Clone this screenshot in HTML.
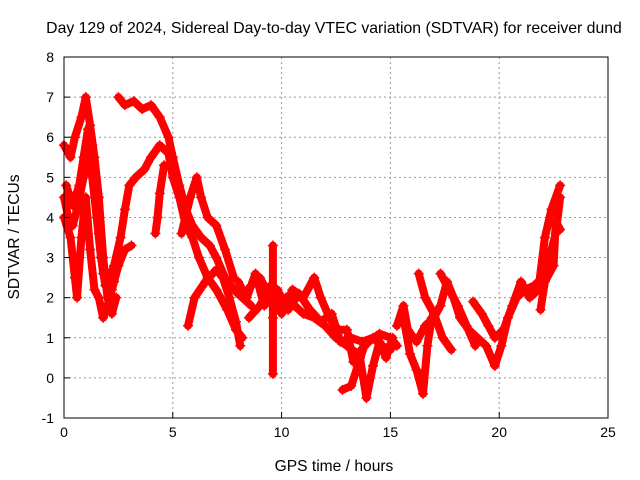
<!DOCTYPE html>
<html><head><meta charset="utf-8"><style>
body{margin:0;background:#fff}
svg{display:block;font-family:"Liberation Sans",sans-serif}
</style></head><body>
<svg id="chart" width="640" height="480">
<text x="334" y="33" text-anchor="middle" font-size="15.8">Day 129 of 2024, Sidereal Day-to-day VTEC variation (SDTVAR) for receiver dund</text>
<text x="334" y="471" text-anchor="middle" font-size="15.6">GPS time / hours</text>
<text transform="translate(19,237) rotate(-90)" text-anchor="middle" font-size="15.6">SDTVAR / TECUs</text>
<g id="grid"></g><g id="marks"></g><g id="axes"></g>
</svg>
<script>
const xTicks=[0,5,10,15,20,25];
const yTicks=[-1,0,1,2,3,4,5,6,7,8];
const trackA=[[0,5.8],[0.3,5.5],[0.5,6.0],[0.8,6.5],[1.0,7.0],[1.2,6.3],[1.4,5.5],[1.6,4.5],[1.8,3.0],[2.0,2.0],[2.2,1.6],[2.4,2.0]];
const trackB=[[0,4.5],[0.2,4.0],[0.4,3.8],[0.6,4.2],[0.9,5.0],[1.1,5.8],[1.3,5.0],[1.5,4.0],[1.7,3.0],[1.9,2.3],[2.1,2.5],[2.3,2.8],[2.6,3.5],[2.8,4.2],[3.0,4.8],[3.3,5.0],[3.7,5.2],[4.0,5.5],[4.4,5.8],[4.8,5.6],[5.0,5.0],[5.3,4.5],[5.6,3.8],[5.9,3.5],[6.2,3.0],[6.6,2.5],[7.0,2.2],[7.5,1.7],[7.9,1.2],[8.2,1.0]];
const trackC=[[2.5,7.0],[2.8,6.8],[3.2,6.9],[3.6,6.7],[4.0,6.8],[4.4,6.5],[4.8,6.0],[5.0,5.5],[5.3,4.8],[5.6,4.2],[5.9,3.8],[6.3,3.5],[6.7,3.3],[7.0,3.0],[7.4,2.5],[7.8,2.2],[8.2,2.0],[8.6,1.8]];
const trackD=[[4.6,5.3],[4.4,4.6],[4.3,4.0],[4.2,3.6]];
const trackE=[[5.7,1.3],[6.0,2.0],[6.5,2.4],[7.0,2.7],[7.3,2.5],[7.6,2.0],[7.9,1.4],[8.1,0.8]];
const trackF=[[5.4,3.6],[5.8,4.5],[6.1,5.0],[6.3,4.5],[6.6,4.0],[7.0,3.8],[7.4,3.2],[7.8,2.5]];
const trackG=[[0,4.0],[0.3,3.5],[0.5,2.5],[0.6,2.0],[0.8,3.5],[1.0,4.5],[1.2,3.2],[1.4,2.2],[1.6,2.0],[1.8,1.5],[2.0,1.8],[2.2,2.2],[2.5,2.8],[2.8,3.2],[3.1,3.3]];
const trackG2=[[0.1,4.8],[0.4,4.3],[0.7,4.8],[0.9,5.5],[1.1,6.2],[1.3,5.8],[1.5,4.8],[1.6,3.6],[1.8,2.6],[2.0,2.2],[2.3,2.4]];
const trackH=[[8.2,2.0],[8.6,2.3],[9.0,2.5],[9.4,2.1],[9.8,1.8],[10.2,2.0],[10.6,1.8],[11.0,1.6],[11.5,1.5],[12.0,1.3],[12.5,1.0],[13.0,0.8],[13.5,0.6],[14.0,0.9],[14.5,1.1],[15.0,1.0],[15.3,0.8]];
const trackH2=[[8.0,2.4],[8.4,2.0],[8.8,2.6],[9.2,1.8],[9.8,2.2],[10.3,1.7],[10.8,2.1],[11.3,1.7],[11.8,1.4],[12.3,1.6],[12.7,0.9],[13.2,1.0],[13.7,0.9],[14.2,1.0],[14.6,0.8],[15.0,0.7]];
const trackI=[[8.5,1.5],[9.0,1.8],[9.5,2.3],[10.0,1.6],[10.5,2.2],[11.0,2.0],[11.5,2.5],[11.8,2.0],[12.2,1.5],[12.6,1.2],[13.0,1.2],[13.3,0.4],[13.6,0.5],[13.9,-0.5],[14.2,0.3],[14.5,0.9],[14.8,0.5],[15.1,1.0]];
const trackJ=[[9.6,0.1],[9.6,1.5],[9.6,3.3]];
const trackK=[[12.8,-0.3],[13.2,-0.2],[13.5,0.3],[13.8,0.8]];
const trackL=[[15.3,1.3],[15.6,1.8],[15.8,1.2],[16.2,0.9],[16.6,1.3],[17.0,1.5],[17.3,1.8],[17.6,2.4],[17.9,2.0],[18.2,1.5],[18.6,1.2],[19.0,1.0],[19.4,0.8],[19.8,0.3],[20.1,0.8],[20.4,1.5],[20.8,2.0],[21.2,2.2],[21.6,2.3],[22.0,2.5],[22.3,3.0],[22.6,3.6],[22.8,4.5]];
const trackM=[[16.3,2.6],[16.6,2.0],[17.0,1.6],[17.4,1.0],[17.8,0.7]];
const trackN=[[17.3,2.6],[17.7,2.2],[18.1,1.8],[18.5,1.3],[18.9,0.8]];
const trackO=[[18.8,1.9],[19.2,1.6],[19.5,1.3],[19.8,1.0],[20.2,1.2],[20.6,1.8],[21.0,2.4],[21.4,2.0],[21.8,2.2],[22.1,3.5],[22.4,4.2],[22.8,4.8]];
const trackP=[[15.6,1.5],[15.9,0.6],[16.2,0.2],[16.5,-0.4],[16.7,0.8],[16.9,1.5]];
const trackQ=[[21.9,1.7],[22.1,2.4],[22.5,2.8],[22.6,3.9],[22.8,3.7]];
const tracks=[trackA,trackB,trackC,trackD,trackE,trackF,trackG,trackG2,trackH,trackH2,trackI,trackJ,trackK,trackL,trackM,trackN,trackO,trackP,trackQ];
const L=64,R=608,T=57,B=418;
const X=v=>L+(v-0)/(25-0)*(R-L);
const Y=v=>B-(v+1)/(8+1)*(B-T);
const NS="http://www.w3.org/2000/svg";
const grid=document.getElementById('grid'),axes=document.getElementById('axes'),marks=document.getElementById('marks');
function mk(tag,attrs,parent){const e=document.createElementNS(NS,tag);for(const k in attrs)e.setAttribute(k,attrs[k]);parent.appendChild(e);return e;}
xTicks.forEach(t=>{
 if(t>0&&t<25){const g=mk('line',{x1:X(t),x2:X(t),y1:T,y2:B,stroke:'#999','stroke-dasharray':'2,3'},grid);
 
 }
 const tk=mk('line',{x1:X(t),x2:X(t),y1:B,y2:B-6,stroke:'#000'},axes);
 
 
 const tx=mk('text',{x:X(t),y:B+19,'text-anchor':'middle','font-size':'14'},axes);tx.textContent=t;
 
 
});
yTicks.forEach(t=>{
 if(t>-1&&t<8){const g=mk('line',{x1:L,x2:R,y1:Y(t),y2:Y(t),stroke:'#999','stroke-dasharray':'2,3'},grid);
 
 }
 const tk=mk('line',{x1:L,x2:L+6,y1:Y(t),y2:Y(t),stroke:'#000'},axes);
 
 
 const tx=mk('text',{x:L-10,y:Y(t)+5,'text-anchor':'end','font-size':'14'},axes);tx.textContent=t;
 
 
});
const fr=mk('rect',{x:L,y:T,width:R-L,height:B-T,fill:'none',stroke:'#000'},axes);


tracks.forEach((tr,i)=>{
 const p=mk('polyline',{points:tr.map(d=>X(d[0])+','+Y(d[1])).join(' '),fill:'none',stroke:'#f00','stroke-width':8,'stroke-linejoin':'round','stroke-linecap':'round'},marks);
 
 
 tr.forEach(d=>{
  const m=mk('path',{d:`M${X(d[0])-5},${Y(d[1])}h10M${X(d[0])},${Y(d[1])-5}v10`,stroke:'#f00','stroke-width':1.5},marks);
  
  
 });
});
</script>
</body></html>
